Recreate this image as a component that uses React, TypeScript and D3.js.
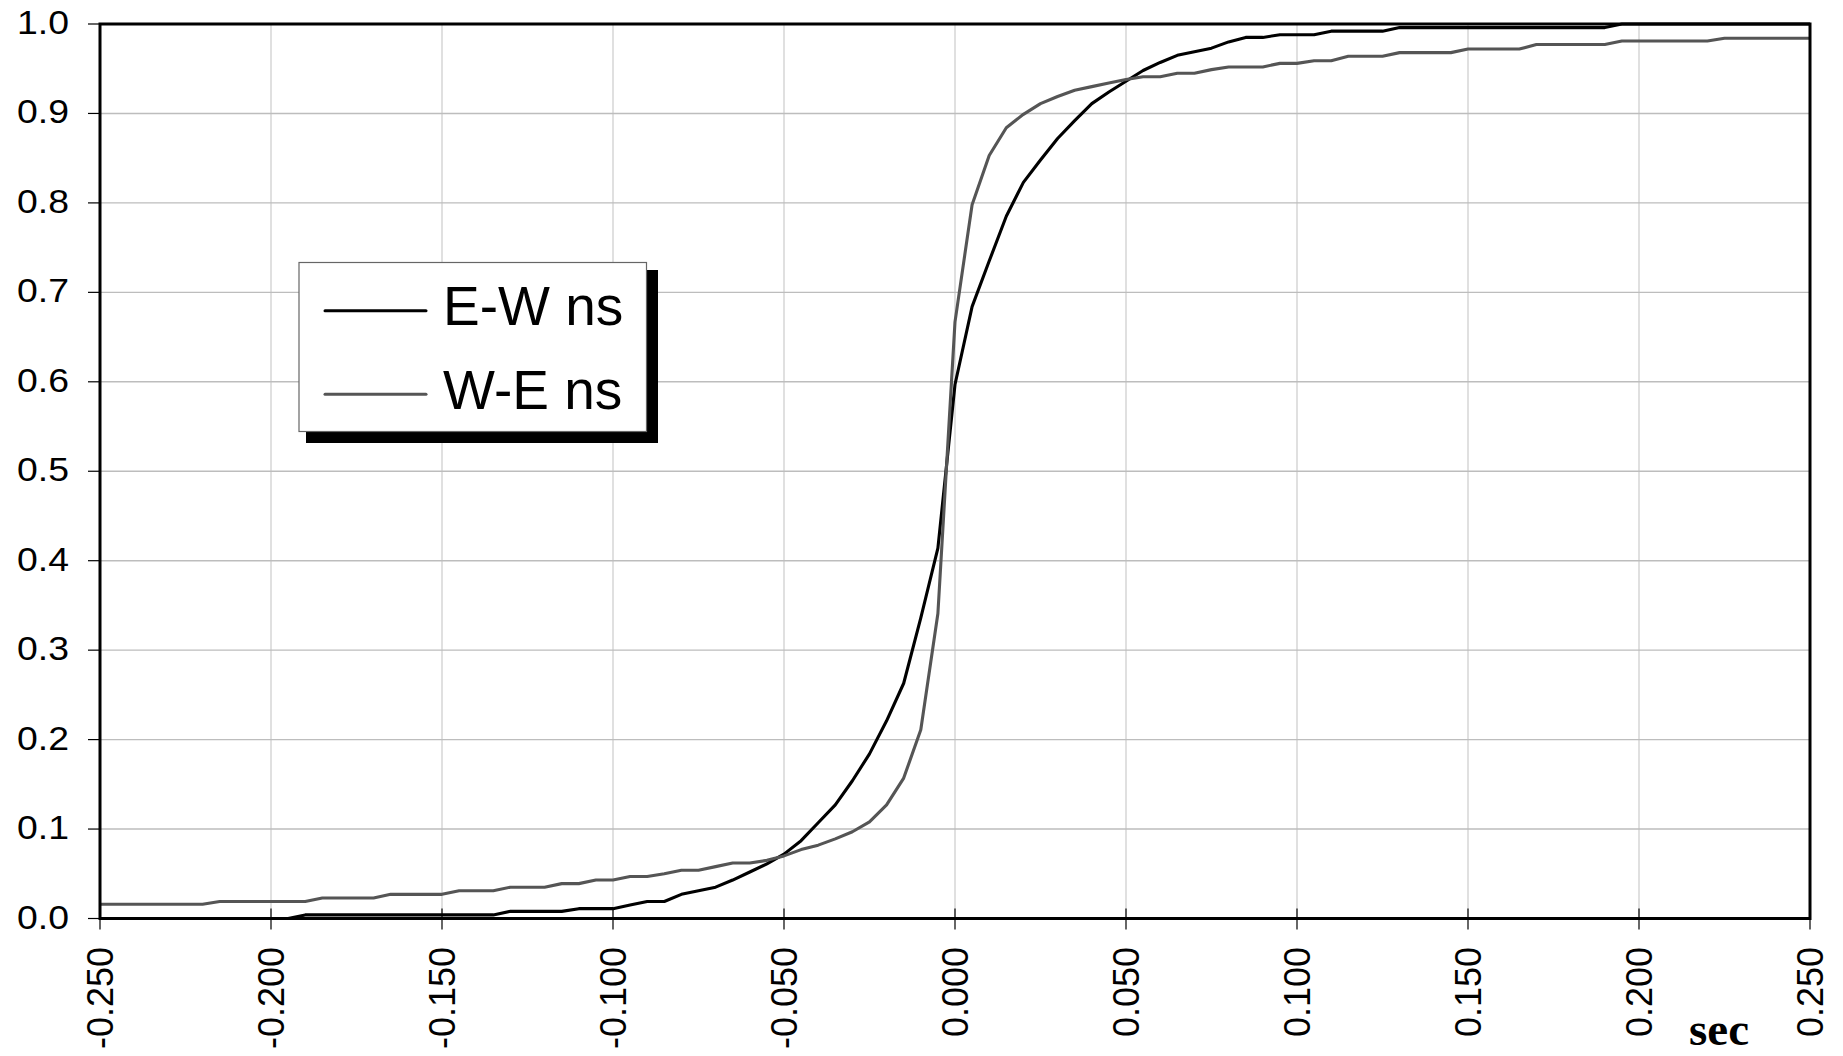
import * as d3 from "d3"

// seconds (x categories)
const secs = [
  -0.25, -0.245, -0.24, -0.235, -0.23, -0.225, -0.22, -0.215, -0.21, -0.205,
  -0.2, -0.195, -0.19, -0.185, -0.18, -0.175, -0.17, -0.165, -0.16, -0.155,
  -0.15, -0.145, -0.14, -0.135, -0.13, -0.125, -0.12, -0.115, -0.11, -0.105,
  -0.1, -0.095, -0.09, -0.085, -0.08, -0.075, -0.07, -0.065, -0.06, -0.055,
  -0.05, -0.045, -0.04, -0.035, -0.03, -0.025, -0.02, -0.015, -0.01, -0.005,
  0, 0.005, 0.01, 0.015, 0.02, 0.025, 0.03, 0.035, 0.04, 0.045,
  0.05, 0.055, 0.06, 0.065, 0.07, 0.075, 0.08, 0.085, 0.09, 0.095,
  0.1, 0.105, 0.11, 0.115, 0.12, 0.125, 0.13, 0.135, 0.14, 0.145,
  0.15, 0.155, 0.16, 0.165, 0.17, 0.175, 0.18, 0.185, 0.19, 0.195,
  0.2, 0.205, 0.21, 0.215, 0.22, 0.225, 0.23, 0.235, 0.24, 0.245,
  0.25,
]

const ewNs = [
  0, 0, 0, 0, 0, 0, 0, 0, 0, 0,
  0, 0, 0.004, 0.004, 0.004, 0.004, 0.004, 0.004, 0.004, 0.004,
  0.004, 0.004, 0.004, 0.004, 0.008, 0.008, 0.008, 0.008, 0.011, 0.011,
  0.011, 0.015, 0.019, 0.019, 0.027, 0.031, 0.035, 0.043, 0.052, 0.061,
  0.072, 0.087, 0.107, 0.127, 0.154, 0.184, 0.221, 0.263, 0.336, 0.414,
  0.597, 0.684, 0.735, 0.785, 0.823, 0.848, 0.872, 0.892, 0.911, 0.924,
  0.936, 0.948, 0.957, 0.965, 0.969, 0.973, 0.98, 0.985, 0.985, 0.988,
  0.988, 0.988, 0.992, 0.992, 0.992, 0.992, 0.996, 0.996, 0.996, 0.996,
  0.996, 0.996, 0.996, 0.996, 0.996, 0.996, 0.996, 0.996, 0.996, 1,
  1, 1, 1, 1, 1, 1, 1, 1, 1, 1,
  1,
]

const weNs = [
  0.016, 0.016, 0.016, 0.016, 0.016, 0.016, 0.016, 0.019, 0.019, 0.019,
  0.019, 0.019, 0.019, 0.023, 0.023, 0.023, 0.023, 0.027, 0.027, 0.027,
  0.027, 0.031, 0.031, 0.031, 0.035, 0.035, 0.035, 0.039, 0.039, 0.043,
  0.043, 0.047, 0.047, 0.05, 0.054, 0.054, 0.058, 0.062, 0.062, 0.065,
  0.07, 0.077, 0.082, 0.089, 0.097, 0.108, 0.127, 0.157, 0.211, 0.341,
  0.667, 0.798, 0.853, 0.884, 0.899, 0.911, 0.919, 0.926, 0.93, 0.934,
  0.938, 0.941, 0.941, 0.945, 0.945, 0.949, 0.952, 0.952, 0.952, 0.956,
  0.956, 0.959, 0.959, 0.964, 0.964, 0.964, 0.968, 0.968, 0.968, 0.968,
  0.972, 0.972, 0.972, 0.972, 0.977, 0.977, 0.977, 0.977, 0.977, 0.981,
  0.981, 0.981, 0.981, 0.981, 0.981, 0.984, 0.984, 0.984, 0.984, 0.984,
  0.984,
]

const xTicks = [-0.25, -0.2, -0.15, -0.1, -0.05, 0, 0.05, 0.1, 0.15, 0.2, 0.25]
const yTicks = [0, 0.1, 0.2, 0.3, 0.4, 0.5, 0.6, 0.7, 0.8, 0.9, 1.0]

const seriesNames = ["E-W ns", "W-E ns"]
const seriesColors = ["#000000", "#555555"]

export default function App() {
  const width = 1843
  const height = 1056
  const left = 100
  const right = 1810
  const top = 24
  const bottom = 918.5

  const sans = "'Liberation Sans', Arial, sans-serif"

  const x = d3.scaleLinear().domain([-0.25, 0.25]).range([left, right])
  const y = d3.scaleLinear().domain([0, 1]).range([bottom, top])

  const line = d3
    .line<number>()
    .x((d, i) => x(secs[i]))
    .y((d) => y(d))

  const series = [ewNs, weNs]

  return (
    <svg
      width={width}
      height={height}
      style={{ position: "absolute", left: 0, top: 0, background: "#fff" }}
    >
      {/* grid */}
      {xTicks.map((t) => (
        <line key={"gx" + t} x1={x(t)} x2={x(t)} y1={top} y2={bottom} stroke="#cccccc" strokeWidth={1.2} />
      ))}
      {yTicks.map((t) => (
        <line key={"gy" + t} x1={left} x2={right} y1={y(t)} y2={y(t)} stroke="#bdbdbd" strokeWidth={1.4} />
      ))}

      {/* curves */}
      {series.map((s, k) => (
        <path key={seriesNames[k]} d={line(s) ?? ""} fill="none" stroke={seriesColors[k]} strokeWidth={3.1} strokeLinejoin="round" />
      ))}

      {/* frame */}
      <rect x={left} y={top} width={right - left} height={bottom - top} fill="none" stroke="#000" strokeWidth={3} />

      {/* y axis */}
      {yTicks.map((t) => (
        <g key={"ty" + t}>
          <line x1={left - 12} x2={left} y1={y(t)} y2={y(t)} stroke="#000" strokeWidth={1.2} />
          <text
            transform={`translate(69, ${y(t) + 10}) scale(1.15, 1)`}
            textAnchor="end"
            fontFamily={sans}
            fontSize={32.5}
            fill="#000"
          >
            {t.toFixed(1)}
          </text>
        </g>
      ))}

      {/* x axis */}
      {xTicks.map((t) => (
        <g key={"tx" + t}>
          <line x1={x(t)} x2={x(t)} y1={bottom - 10} y2={bottom + 11} stroke="#000" strokeWidth={1.2} />
          <text
            transform={`translate(${x(t) + 13}, 947) rotate(-90)`}
            textAnchor="end"
            fontFamily={sans}
            fontSize={36}
            fill="#000"
          >
            {t.toFixed(3)}
          </text>
        </g>
      ))}
      <text x={1689} y={1045} fontFamily="'Liberation Serif', 'Times New Roman', serif" fontWeight="bold" fontSize={47}>
        sec
      </text>

      {/* legend */}
      <rect x={306} y={270} width={352} height={173} fill="#000" />
      <rect x={299} y={262.5} width={347.5} height={169} fill="#fff" stroke="#666" strokeWidth={1.2} />
      {seriesNames.map((n, k) => (
        <g key={"lg" + n}>
          <line x1={325} x2={426} y1={310.7 + k * 83.5} y2={310.7 + k * 83.5} stroke={seriesColors[k]} strokeWidth={3} strokeLinecap="round" />
          <text x={443} y={325 + k * 83.5} fontFamily={sans} fontSize={55} fill="#000">
            {n}
          </text>
        </g>
      ))}
    </svg>
  )
}
